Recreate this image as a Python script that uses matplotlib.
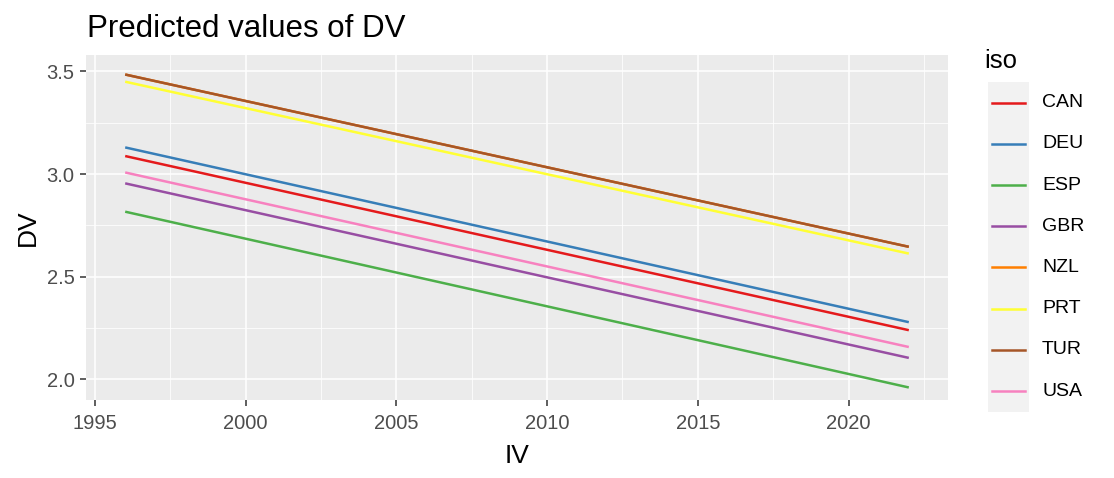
# Predicted values of DV -- ggplot-like line chart
import numpy as np
import matplotlib.pyplot as plt
from matplotlib.lines import Line2D
from matplotlib.patches import Rectangle

# Data
years = [1996, 2022]
countries = ['CAN', 'DEU', 'ESP', 'GBR', 'NZL', 'PRT', 'TUR', 'USA']
dv_start = [3.088, 3.130, 2.817, 2.955, 3.485, 3.450, 3.485, 3.008]
dv_end = [2.240, 2.279, 1.961, 2.105, 2.646, 2.613, 2.646, 2.158]
colors = ['#E41A1C', '#377EB8', '#4DAF4A', '#984EA3',
          '#FF7F00', '#FFFF33', '#A65628', '#F781BF']

plt.rcParams['font.family'] = ['Liberation Sans', 'DejaVu Sans']

fig = plt.figure(figsize=(11.14, 4.78), dpi=100)
ax = fig.add_axes([86/1114, 1 - 400/478, (948-86)/1114, (400-55)/478])
ax.set_facecolor('#EBEBEB')

for c, s, e, col in zip(countries, dv_start, dv_end, colors):
    ax.plot(years, [s, e], color=col, lw=1.8, solid_capstyle='butt', zorder=3)

ax.set_xlim(1994.7, 2023.3)
ax.set_ylim(1.90, 3.58)
ax.set_xticks([1995, 2000, 2005, 2010, 2015, 2020])
ax.set_yticks([2.0, 2.5, 3.0, 3.5])
ax.set_yticklabels(['2.0', '2.5', '3.0', '3.5'])
ax.set_xticks([1997.5, 2002.5, 2007.5, 2012.5, 2017.5, 2022.5], minor=True)
ax.set_yticks([2.25, 2.75, 3.25], minor=True)
ax.grid(which='major', color='white', lw=1.1, zorder=0)
ax.grid(which='minor', color='white', lw=0.55, zorder=0)
ax.set_axisbelow(True)
for sp in ax.spines.values():
    sp.set_visible(False)
ax.tick_params(which='major', length=4.3, width=1.1, color='#333333',
               labelcolor='#4D4D4D', labelsize=14.5, pad=4)
ax.tick_params(axis='x', which='major', pad=5.5)
ax.tick_params(which='minor', length=0)

ax.set_xlabel('IV', fontsize=19, labelpad=8)
ax.set_ylabel('DV', fontsize=19, labelpad=5)
fig.text(87/1114, 1 - 29/478, 'Predicted values of DV', fontsize=22.5,
         va='center', ha='left')

# legend drawn by hand, ggplot style
fig.text(984/1114, 1 - 61/478, 'iso', fontsize=18.5, va='center', ha='left')
key_top, key_h = 82, 41.2
fig.patches.append(Rectangle((988/1114, 1 - (key_top + key_h*len(countries))/478),
                             41/1114, key_h*len(countries)/478,
                             transform=fig.transFigure, facecolor='#F2F2F2',
                             edgecolor='none'))
for i, (c, col) in enumerate(zip(countries, colors)):
    yc = 1 - (key_top + key_h*(i + 0.5))/478
    fig.lines.append(Line2D([992/1114, 1025/1114], [yc, yc], color=col, lw=1.8,
                            transform=fig.transFigure))
    fig.text(1042/1114, yc, c, fontsize=14, va='center', ha='left')

fig.savefig('out.png', dpi=100)
